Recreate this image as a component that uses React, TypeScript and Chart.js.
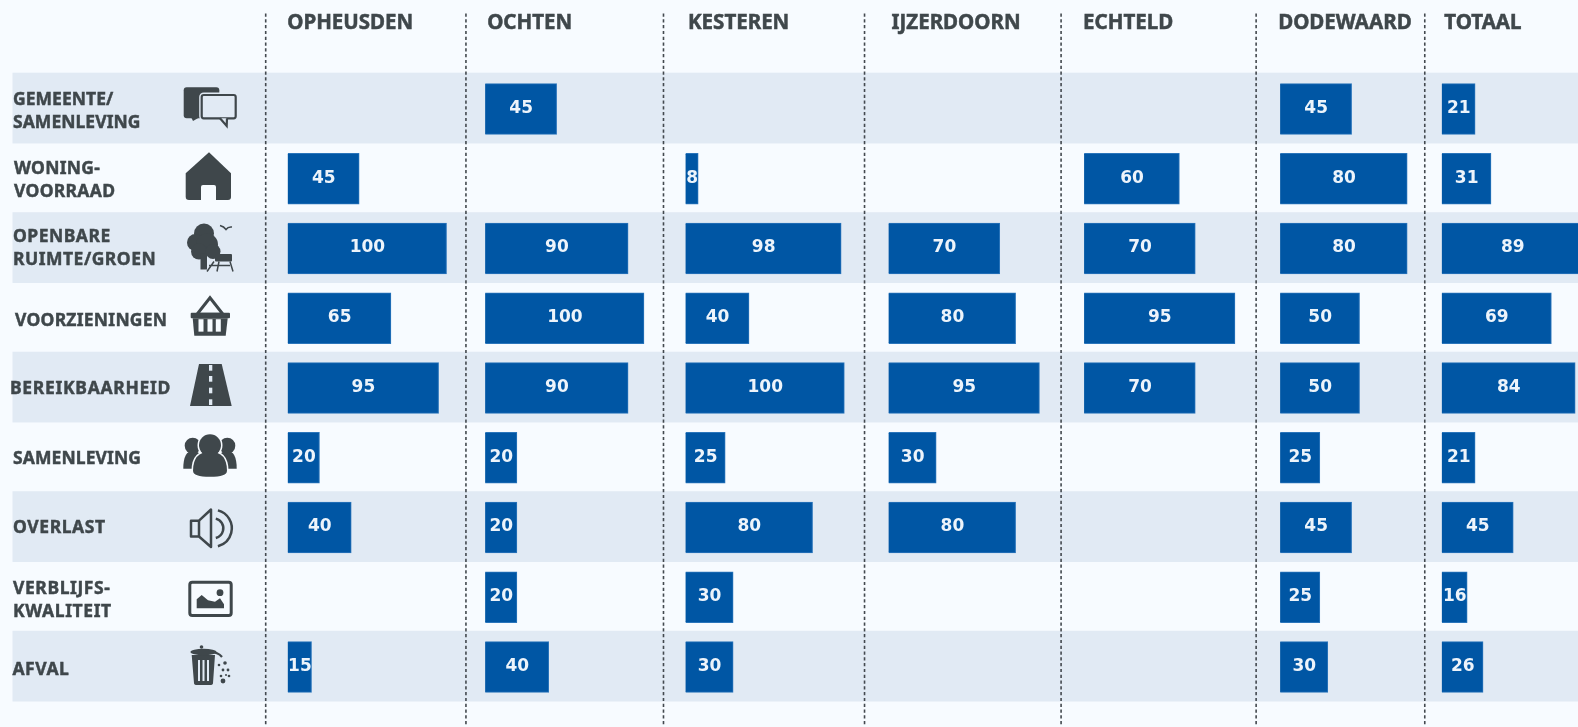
import React, { useEffect, useRef } from "react";
import { Chart, registerables } from "chart.js";

Chart.register(...registerables);

const categories = ["GEMEENTE/\nSAMENLEVING", "WONING-\nVOORRAAD", "OPENBARE\nRUIMTE/GROEN", "VOORZIENINGEN", "BEREIKBAARHEID", "SAMENLEVING", "OVERLAST", "VERBLIJFS-\nKWALITEIT", "AFVAL"];
const headers = ["OPHEUSDEN", "OCHTEN", "KESTEREN", "IJZERDOORN", "ECHTELD", "DODEWAARD", "TOTAAL"];
const opheusden = [null, 45, 100, 65, 95, 20, 40, null, 15];
const ochten = [45, null, 90, 100, 90, 20, 20, 20, 40];
const kesteren = [null, 8, 98, 40, 100, 25, 80, 30, 30];
const ijzerdoorn = [null, null, 70, 80, 95, 30, 80, null, null];
const echteld = [null, 60, 70, 95, 70, null, null, null, null];
const dodewaard = [45, 80, 80, 50, 50, 25, 45, 25, 30];
const totaal = [21, 31, 89, 69, 84, 21, 45, 16, 26];
const seriesValues = [opheusden, ochten, kesteren, ijzerdoorn, echteld, dodewaard, totaal];

// layout
const W = 1578, H = 727;
const PX_PER_UNIT = 1.588;
const columnWidths = [200.2, 197.5, 201, 196.5, 195, 168.6, 153.2];
const barInsets = [22, 19.2, 22, 24, 23, 24, 17];
const headerNudge = [-0.5, 2, 2.5, 3, -1, -2, 2.5];
const AREA_LEFT = 265.7, AREA_TOP = 74.1, AREA_BOTTOM = 701.9;
const INK = "#3f474b";
const PAGE = "#f7fbff";
const BAND = "#e1eaf4";
const LABEL_FONT = '700 17.5px "Noto Sans"';
// x, y shift and letter spacing of each row label
const labelNudge = [[13, 3, 0.05], [14, 1.8, 0.3], [13, -0.2, 0.5], [15, 3.2, 0.25], [10, 1.2, 0.7], [13, 1.2, 0.1], [13, 1, 0.6], [13, 3.7, 0.6], [12.5, 2.8, 0.5]];

type Ctx = CanvasRenderingContext2D;
const rr = (c: Ctx, x: number, y: number, w: number, h: number, r: any) => { c.beginPath(); c.roundRect(x, y, w, h, r); };
const poly = (c: Ctx, pts: number[][]) => { c.beginPath(); pts.forEach((p, i) => (i ? c.lineTo(p[0], p[1]) : c.moveTo(p[0], p[1]))); c.closePath(); };
const dot = (c: Ctx, x: number, y: number, r: number) => { c.beginPath(); c.arc(x, y, r, 0, Math.PI * 2); c.fill(); };

// icons, in local coordinates around each row's centre
const icons: ((c: Ctx, bg: string) => void)[] = [
  (c, bg) => {
    rr(c, -26.3, -21.7, 35.6, 31, 3); c.fill();
    poly(c, [[-19, 8], [-17, 12], [-10, 8]]); c.fill();
    rr(c, -8.3, -14, 34, 23.3, 2);
    c.fillStyle = bg; c.strokeStyle = bg; c.lineWidth = 5; c.stroke(); c.fill();
    c.strokeStyle = INK; c.lineWidth = 2.2; c.stroke();
    c.beginPath(); c.moveTo(10, 9.3); c.lineTo(16.7, 17); c.lineTo(17, 9.3); c.fillStyle = bg; c.fill(); c.stroke();
  },
  (c, bg) => {
    c.beginPath(); c.moveTo(-1, -26.4); c.lineTo(21, -5.4); c.lineTo(21, 18); c.quadraticCurveTo(21, 21.3, 18, 21.3);
    c.lineTo(-21, 21.3); c.quadraticCurveTo(-24.3, 21.3, -24.3, 18); c.lineTo(-24.3, -5.4); c.closePath(); c.fill();
    c.fillStyle = bg; rr(c, -9, 6.3, 15, 16, [2, 2, 0, 0]); c.fill();
  },
  (c) => {
    dot(c, -6, -15, 10); dot(c, -14.5, -6, 8.5); dot(c, -3, -4, 11); dot(c, -11, 3, 8); dot(c, 3, 3, 7.5);
    c.fillRect(-9.5, 5, 6.5, 16);
    rr(c, 5, 5.5, 17, 7.5, 1); c.fill();
    c.lineWidth = 1.5; c.strokeStyle = INK;
    c.beginPath(); c.moveTo(4, 13); c.lineTo(-3, 23); c.moveTo(9, 13); c.lineTo(7, 23); c.moveTo(20, 13); c.lineTo(23, 23); c.moveTo(-1, 17); c.lineTo(20, 17); c.stroke();
    c.beginPath(); c.moveTo(10, -23); c.quadraticCurveTo(14, -22, 16, -19); c.quadraticCurveTo(18, -22, 22, -21.5); c.stroke();
  },
  (c, bg) => {
    c.lineWidth = 3; c.strokeStyle = INK;
    poly(c, [[0, -20.5], [-13, -4], [13, -4]]); c.stroke();
    rr(c, -19.3, -5.6, 39.3, 5.6, 1); c.fill();
    poly(c, [[-17.3, 0], [17.7, 0], [15.7, 17.4], [-15.7, 17.4]]); c.fill();
    c.fillStyle = bg;
    [-9, 0, 8.3].forEach((x) => { c.fillRect(x - 2.5, 1, 5, 12.4); });
  },
  (c, bg) => {
    poly(c, [[-11, -24], [11.7, -24], [21.7, 18], [-20, 18]]); c.fill();
    c.fillStyle = bg;
    [[-23, 5.7], [-12, 5.7], [-0.3, 5.6], [11.3, 5.7]].forEach(([y, h]) => c.fillRect(-1, y, 3.3, h));
  },
  (c, bg) => {
    dot(c, -17.3, -12, 8); dot(c, 17.3, -12, 8);
    c.beginPath(); c.moveTo(-26.7, 11); c.quadraticCurveTo(-26.7, -7, -17, -7); c.quadraticCurveTo(-7, -7, -7, 11); c.closePath(); c.fill();
    c.beginPath(); c.moveTo(26.7, 11); c.quadraticCurveTo(26.7, -7, 17, -7); c.quadraticCurveTo(7, -7, 7, 11); c.closePath(); c.fill();
    const head = () => { c.beginPath(); c.arc(0, -12.5, 11, 0, Math.PI * 2); };
    const body = () => { c.beginPath(); c.moveTo(-17, 13); c.quadraticCurveTo(-17, -6, 0, -6); c.quadraticCurveTo(17, -6, 17, 13); c.quadraticCurveTo(17, 19, 0, 19); c.quadraticCurveTo(-17, 19, -17, 13); c.closePath(); };
    c.strokeStyle = bg; c.lineWidth = 3;
    head(); c.stroke(); body(); c.stroke();
    head(); c.fill(); body(); c.fill();
  },
  (c) => {
    c.lineWidth = 2.5; c.strokeStyle = INK; c.lineJoin = "round";
    poly(c, [[-19, -6.8], [-11, -6.8], [1, -18], [1, 19.5], [-11, 9], [-19, 9]]); c.stroke();
    c.beginPath(); c.moveTo(-11, -6.8); c.lineTo(-11, 9); c.stroke();
    c.beginPath(); c.arc(3.3, 0.8, 10, -Math.PI * 0.42, Math.PI * 0.42); c.stroke();
    c.beginPath(); c.arc(3.3, 0.8, 18.5, -Math.PI * 0.42, Math.PI * 0.42); c.stroke();
  },
  (c) => {
    c.lineWidth = 3; c.strokeStyle = INK;
    rr(c, -20.2, -15.1, 41.4, 33.4, 2.5); c.stroke();
    poly(c, [[-13.3, 11], [-13.3, 2], [-8.3, -2.3], [-2, 3], [5, 4.5], [10, 1], [14, 7], [14, 11]]); c.fill();
    dot(c, 10, -4.6, 3.4);
  },
  (c, bg) => {
    c.beginPath(); c.moveTo(-18.3, -12); c.lineTo(5, -12); c.lineTo(3, 16); c.quadraticCurveTo(3, 18, 0, 18); c.lineTo(-13, 18); c.quadraticCurveTo(-16, 18, -16, 16); c.closePath(); c.fill();
    c.fillStyle = bg; [-12, -7.5, -3].forEach((x) => c.fillRect(x, -7, 2, 21));
    c.fillStyle = INK;
    c.beginPath(); c.ellipse(-6.5, -15, 13, 3.2, 0, 0, Math.PI * 2); c.fill();
    dot(c, -8.5, -20, 1.8);
    c.lineWidth = 2.2; c.strokeStyle = INK; c.beginPath(); c.moveTo(0, -15); c.quadraticCurveTo(8, -15, 12, -10); c.stroke();
    [[9, -2, 1.3], [15, -4, 1.8], [13, 3, 1.4], [18, 3, 1.4], [11, 9, 1.3], [19, 9, 1.3], [13, 14, 2.4], [16, 8, 1]].forEach(([x, y, r]) => dot(c, x, y, r));
  },
];

const backdrop = {
  id: "backdrop",
  beforeDatasetsDraw(chart: any) {
    const { ctx, scales } = chart;
    const y = scales.y;
    const step = (y.bottom - y.top) / categories.length;
    ctx.save();
    ctx.fillStyle = BAND;
    categories.forEach((_, i) => {
      if (i % 2 === 0) ctx.fillRect(12.5, y.getPixelForValue(i) - 0.9 - (step + 1) / 2, W, step + 1);
    });
    ctx.strokeStyle = "#43494f"; ctx.lineWidth = 1.6; ctx.setLineDash([3.2, 2.6]);
    headers.forEach((_, i) => {
      const x = scales["x" + i].left;
      ctx.beginPath(); ctx.moveTo(x, 13.5); ctx.lineTo(x, 725); ctx.stroke();
    });
    ctx.restore();
  },
  afterDatasetsDraw(chart: any) {
    const { ctx, scales } = chart;
    const y = scales.y;
    // row labels
    ctx.save();
    ctx.fillStyle = INK; ctx.strokeStyle = INK; ctx.lineWidth = 0.45; ctx.font = LABEL_FONT; ctx.textAlign = "left"; ctx.textBaseline = "middle";
    categories.forEach((name, i) => {
      const lines = name.split("\n");
      const cy = y.getPixelForValue(i) + labelNudge[i][1];
      (ctx as any).letterSpacing = labelNudge[i][2] + "px";
      lines.forEach((line, k) => {
        const ly = cy + (k - (lines.length - 1) / 2) * 23;
        ctx.fillText(line, labelNudge[i][0], ly);
        ctx.strokeText(line, labelNudge[i][0], ly);
      });
    });
    (ctx as any).letterSpacing = "0px";
    // icons
    categories.forEach((_, i) => {
      ctx.save();
      ctx.translate(210, y.getPixelForValue(i));
      ctx.fillStyle = INK;
      icons[i](ctx, i % 2 === 0 ? BAND : PAGE);
      ctx.restore();
    });
    // value labels
    ctx.fillStyle = "#edf4fb"; ctx.font = 'bold 17px "DejaVu Sans"'; ctx.textAlign = "center";
    chart.data.datasets.forEach((ds: any, d: number) => {
      chart.getDatasetMeta(d).data.forEach((bar: any, i: number) => {
        const v = ds.data[i];
        if (v === null) return;
        ctx.fillText(String(v), (bar.x + bar.base) / 2 + 0.3, bar.y - 0.5);
      });
    });
    ctx.restore();
  },
};

export default function App() {
  const ref = useRef<HTMLCanvasElement>(null);
  useEffect(() => {
    const scales: any = {
      y: {
        type: "category",
        labels: categories,
        position: "left",
        grid: { display: false },
        border: { display: false },
        ticks: { display: false },
        afterFit: (s: any) => { s.width = AREA_LEFT; },
      },
    };
    headers.forEach((name, i) => {
      scales["x" + i] = {
        type: "linear",
        position: "top",
        stack: "columns",
        stackWeight: columnWidths[i],
        weight: headers.length - i,
        min: -barInsets[i] / PX_PER_UNIT,
        max: (columnWidths[i] - barInsets[i]) / PX_PER_UNIT,
        grid: { display: false, drawTicks: false },
        border: { display: false },
        afterBuildTicks: (s: any) => { s.ticks = [{ value: 0 }]; },
        afterFit: (s: any) => {
          s.height = AREA_TOP;
          s.paddingLeft = s.paddingRight = s.paddingTop = s.paddingBottom = 0;
        },
        ticks: {
          callback: () => name,
          align: "start",
          autoSkip: false,
          maxRotation: 0,
          padding: 39,
          labelOffset: headerNudge[i],
          color: INK,
          textStrokeColor: INK,
          textStrokeWidth: 0.5,
          font: { family: '"Noto Sans"', weight: "bold", size: 20.5 },
        },
      };
    });
    const chart = new Chart(ref.current!, {
      type: "bar",
      data: {
        labels: categories,
        datasets: seriesValues.map((values, i) => ({
          label: headers[i],
          data: values,
          xAxisID: "x" + i,
          yAxisID: "y",
          backgroundColor: "#0056a4",
          borderColor: "#2a75bb",
          borderWidth: 1,
          grouped: false,
          barThickness: 50.7,
        })),
      } as any,
      options: {
        indexAxis: "y",
        responsive: false,
        animation: false,
        events: [],
        layout: { padding: { left: 0, right: 0, top: 0, bottom: H - AREA_BOTTOM } },
        plugins: { legend: { display: false }, tooltip: { enabled: false }, title: { display: false } },
        scales,
      } as any,
      plugins: [backdrop],
    });
    return () => chart.destroy();
  }, []);
  return (
    <div style={{ position: "fixed", left: 0, top: 0, width: W, height: H, background: PAGE, overflow: "hidden" }}>
      <canvas ref={ref} width={W} height={H} style={{ display: "block", width: W, height: H, filter: "blur(0.45px)" }} />
    </div>
  );
}
